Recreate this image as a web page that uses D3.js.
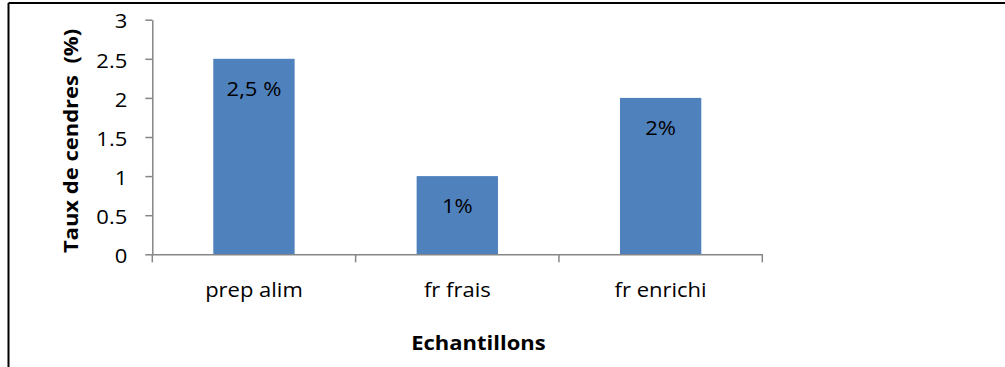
<!DOCTYPE html>
<html>
<head>
<meta charset="utf-8">
<script src="https://cdn.jsdelivr.net/npm/d3@7"></script>
<style>
  html, body { margin: 0; padding: 0; background: #fff; }
  svg { display: block; }
  text { font-family: "Open Sans", Lato, sans-serif; fill: #000; white-space: pre; }
</style>
</head>
<body>
<svg id="chart" width="1005" height="367"></svg>
<script>
// Ash content per sample
const categories = ["prep alim", "fr frais", "fr enrichi"];
const values = [2.5, 1, 2];
const valueLabels = ["2,5 %", "1%", "2%"];
const yTicks = [0, 0.5, 1, 1.5, 2, 2.5, 3];
const yTitle = "Taux de cendres  (%)";
const xTitle = "Echantillons";

const W = 1005, H = 367;
const plot = { left: 152.3, right: 762.3, top: 19.7, bottom: 254.3 };
const stretch = 1.1;          // horizontal widening of the glyphs
const fontSize = 20;
const titleSize = 20;
const barColor = "#4F81BD";
const axisColor = "#868686";

const svg = d3.select("#chart");

// frame: top and left rules
svg.append("line").attr("x1", 8.5).attr("x2", W).attr("y1", 3).attr("y2", 3)
  .attr("stroke", "#000").attr("stroke-width", 2);
svg.append("line").attr("x1", 8.5).attr("x2", 8.5).attr("y1", 3).attr("y2", H)
  .attr("stroke", "#000").attr("stroke-width", 2);

const x = d3.scaleBand().domain(categories)
  .range([plot.left, plot.right]).paddingInner(0.6).paddingOuter(0.3);
const y = d3.scaleLinear().domain([0, 3]).range([plot.bottom, plot.top]);

// bars
svg.append("g").selectAll("rect").data(values).join("rect")
  .attr("x", (d, i) => x(categories[i]))
  .attr("y", d => y(d))
  .attr("width", x.bandwidth())
  .attr("height", d => y(0) - y(d))
  .attr("fill", barColor);

// value labels inside the bars
svg.append("g").selectAll("text").data(values).join("text")
  .attr("transform", (d, i) =>
    `translate(${x(categories[i]) + x.bandwidth() / 2},${y(d) + 37}) scale(${stretch},1)`)
  .attr("text-anchor", "middle")
  .style("font-size", fontSize + "px")
  .text((d, i) => valueLabels[i]);

// y axis
const yAxis = svg.append("g").attr("transform", `translate(${plot.left},0)`)
  .call(d3.axisLeft(y).tickValues(yTicks).tickSize(7).tickSizeOuter(0).tickPadding(18)
    .tickFormat(d3.format("")));
// x axis; ticks are drawn on the category boundaries below
const xAxis = svg.append("g").attr("transform", `translate(0,${plot.bottom})`)
  .call(d3.axisBottom(x).tickSize(0).tickSizeOuter(0));

[yAxis, xAxis].forEach(g => {
  g.attr("font-family", null);
  g.select(".domain").attr("stroke", axisColor).attr("stroke-width", 1.5);
  g.selectAll(".tick line").attr("stroke", axisColor).attr("stroke-width", 1.5);
});

yAxis.selectAll(".tick text")
  .style("font-size", fontSize + "px")
  .attr("fill", "#000")
  .each(function () {
    const t = d3.select(this);
    const tx = +t.attr("x");
    t.attr("x", 0).attr("dy", "0.36em")
      .attr("transform", `translate(${tx},1) scale(${stretch},1)`);
  });

xAxis.selectAll(".tick text")
  .style("font-size", fontSize + "px")
  .attr("fill", "#000")
  .attr("dy", null)
  .attr("y", 0)
  .attr("transform", `translate(0,43) scale(${stretch},1)`);

// boundary ticks on the category axis
const step = x.step();
const bounds = d3.range(categories.length + 1).map(i => plot.left + i * step);
xAxis.selectAll(".bound").data(bounds).join("line")
  .attr("class", "bound")
  .attr("x1", d => d).attr("x2", d => d)
  .attr("y1", 0).attr("y2", 8)
  .attr("stroke", axisColor).attr("stroke-width", 1.5);

// axis titles
svg.append("text")
  .attr("transform", `translate(478.5,350) scale(${stretch},1)`)
  .attr("text-anchor", "middle")
  .style("font-size", titleSize + "px").style("font-weight", "bold")
  .text(xTitle);

svg.append("text")
  .attr("transform", `translate(78,141) rotate(-90) scale(${stretch},1)`)
  .attr("text-anchor", "middle")
  .style("font-size", titleSize + "px").style("font-weight", "bold")
  .text(yTitle);
</script>
</body>
</html>
